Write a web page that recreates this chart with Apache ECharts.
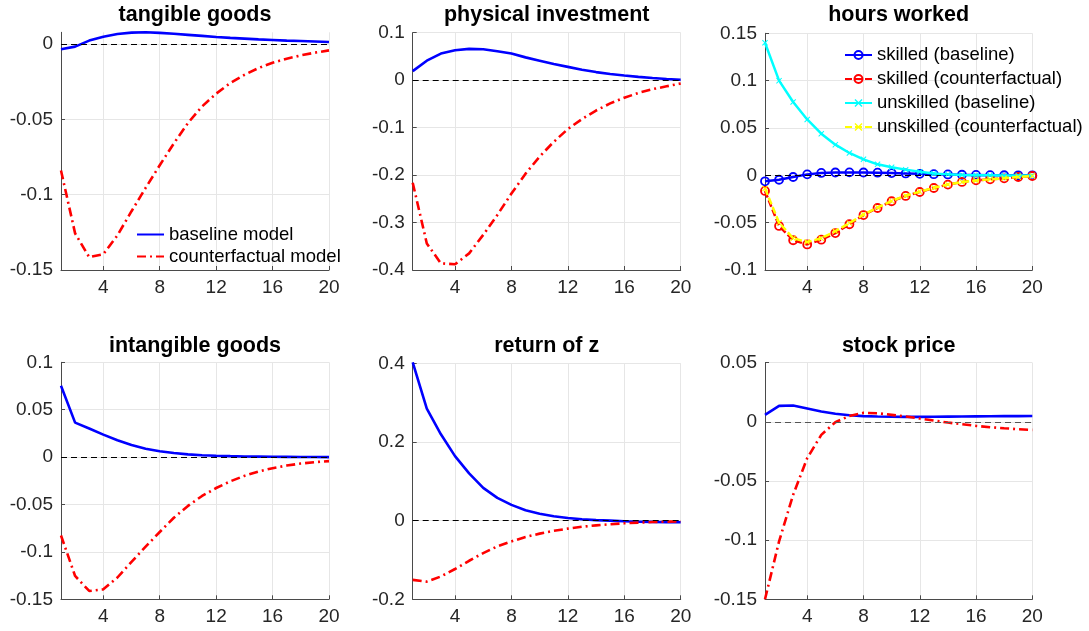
<!DOCTYPE html>
<html>
<head>
<meta charset="utf-8">
<script src="https://cdn.jsdelivr.net/npm/echarts@6/dist/echarts.min.js"></script>
<style>
html,body{margin:0;padding:0;background:#fff;}
#chart{width:1089px;height:631px;}
</style>
</head>
<body>
<div id="chart"></div>
<script>
// ---------- data ----------
const periods = [1,2,3,4,5,6,7,8,9,10,11,12,13,14,15,16,17,18,19,20];
const xTicks = [4,8,12,16,20];

const titles = ['tangible goods','physical investment','hours worked','intangible goods','return of z','stock price'];

const tangibleBaseline = [-0.0035,-0.0018,0.0022,0.0048,0.0066,0.0075,0.0077,0.0073,0.0067,0.006,0.0053,0.0046,0.004,0.0035,0.003,0.0026,0.0022,0.0019,0.0016,0.0013];
const tangibleCounter  = [-0.084,-0.1257,-0.1415,-0.1395,-0.127,-0.111,-0.0955,-0.0805,-0.066,-0.0525,-0.0415,-0.033,-0.026,-0.0205,-0.016,-0.0125,-0.0098,-0.0076,-0.0058,-0.0043];

const physBaseline = [0.019,0.041,0.056,0.063,0.066,0.065,0.061,0.056,0.048,0.041,0.034,0.028,0.022,0.017,0.013,0.0098,0.007,0.0045,0.0025,0.001];
const physCounter  = [-0.216,-0.344,-0.386,-0.388,-0.365,-0.326,-0.284,-0.239,-0.197,-0.161,-0.13,-0.103,-0.082,-0.064,-0.049,-0.037,-0.027,-0.019,-0.013,-0.007];

const skilledBaseline   = [-0.0063,-0.0047,-0.0018,0.001,0.0025,0.003,0.0031,0.003,0.0028,0.0024,0.002,0.0016,0.0012,0.0009,0.0006,0.0004,0.0002,0.0001,0,0];
const skilledCounter    = [-0.0165,-0.0535,-0.0686,-0.073,-0.068,-0.061,-0.0517,-0.042,-0.0345,-0.0274,-0.0218,-0.0176,-0.0134,-0.0098,-0.007,-0.0053,-0.0042,-0.0032,-0.0018,-0.0007];
const unskilledBaseline = [0.14,0.1,0.0775,0.059,0.044,0.0324,0.0236,0.0169,0.0116,0.0085,0.006,0.0037,0.002,0.001,0.0004,0.0001,0,-0.0001,-0.0002,-0.0002];
const unskilledCounter  = [-0.014,-0.05,-0.0665,-0.0705,-0.0665,-0.059,-0.0505,-0.0415,-0.034,-0.027,-0.0215,-0.0172,-0.0132,-0.0097,-0.0071,-0.0054,-0.0042,-0.0031,-0.0018,-0.0007];

const intangibleBaseline = [0.0753,0.0364,0.0302,0.0237,0.0177,0.0127,0.0089,0.0062,0.0043,0.0029,0.002,0.0014,0.001,0.0007,0.0005,0.0003,0.0002,0.0001,0.0001,0];
const intangibleCounter  = [-0.0827,-0.1254,-0.1412,-0.1395,-0.127,-0.1105,-0.0945,-0.079,-0.064,-0.0515,-0.041,-0.0326,-0.0256,-0.0198,-0.0152,-0.0117,-0.0089,-0.0068,-0.0053,-0.0042];

const returnBaseline = [0.4026,0.285,0.2196,0.164,0.12,0.0834,0.058,0.04,0.0264,0.0175,0.011,0.0065,0.0034,0.0014,0,-0.0015,-0.0025,-0.0032,-0.0037,-0.004];
const returnCounter  = [-0.1506,-0.155,-0.142,-0.123,-0.102,-0.0826,-0.0655,-0.0528,-0.0417,-0.033,-0.026,-0.0204,-0.0155,-0.012,-0.0092,-0.0068,-0.005,-0.0036,-0.0026,-0.0018];

const stockBaseline = [0.0059,0.0135,0.0138,0.0113,0.0088,0.0068,0.0056,0.0048,0.0045,0.0043,0.0042,0.0042,0.0043,0.0044,0.0045,0.0046,0.0047,0.0048,0.0048,0.0049];
const stockCounter  = [-0.15,-0.101,-0.0617,-0.0307,-0.011,-0.0003,0.005,0.0076,0.0073,0.0059,0.0045,0.0028,0.0011,-0.0006,-0.002,-0.0034,-0.0045,-0.0054,-0.0062,-0.0068];

// y-axis ranges and tick labels per panel
const yMins = [-0.15,-0.4,-0.1,-0.15,-0.2,-0.15];
const yMaxs = [0.0077,0.1,0.15,0.1,0.4,0.05];
const yTicks = [
  [-0.15,-0.1,-0.05,0],
  [-0.4,-0.3,-0.2,-0.1,0,0.1],
  [-0.1,-0.05,0,0.05,0.1,0.15],
  [-0.15,-0.1,-0.05,0,0.05,0.1],
  [-0.2,0,0.2,0.4],
  [-0.15,-0.1,-0.05,0,0.05]
];

const legend1Names = ['baseline model','counterfactual model'];
const legend2Names = ['skilled (baseline)','skilled (counterfactual)','unskilled (baseline)','unskilled (counterfactual)'];

// ---------- layout / styles ----------
const FONT = 'Liberation Sans';
const grids = [
  {left:61,    top:32.3,  width:268,   height:237.7},
  {left:412.7, top:32.7,  width:268,   height:237.3},
  {left:765,   top:33.3,  width:267.3, height:236.7},
  {left:61,    top:362.3, width:268,   height:237},
  {left:412.7, top:363.3, width:268,   height:236},
  {left:765,   top:362.7, width:267.3, height:236.6}
];
const AX = '#4a4a4a';
const GRIDC = '#e6e6e6';
const pair = arr => periods.map((p,i)=>[p,arr[i]]);
const fmt = v => String(+(+v).toFixed(4));
const xPath = 'path://M0,1.2 L1.2,0 L5,3.8 L8.8,0 L10,1.2 L6.2,5 L10,8.8 L8.8,10 L5,6.2 L1.2,10 L0,8.8 L3.8,5 Z';

const xAxes = grids.map((g,i)=>({
  type:'value', gridIndex:i, min:1, max:20,
  axisLine:{show:true, onZero:false, lineStyle:{color:AX, width:1}},
  axisTick:{show:true, inside:true, length:4, customValues:xTicks, lineStyle:{color:AX}},
  axisLabel:{show:true, customValues:xTicks, color:'#262626', fontSize:19, fontFamily:FONT, margin:8},
  splitLine:{show:true, lineStyle:{color:GRIDC, width:1}}
}));
const yAxes = grids.map((g,i)=>({
  type:'value', gridIndex:i, min:yMins[i], max:yMaxs[i],
  axisLine:{show:true, onZero:false, lineStyle:{color:AX, width:1}},
  axisTick:{show:true, inside:true, length:4, customValues:yTicks[i], lineStyle:{color:AX}},
  axisLabel:{show:true, customValues:yTicks[i], color:'#262626', fontSize:19, fontFamily:FONT, margin:8, formatter:fmt},
  splitLine:{show:true, lineStyle:{color:GRIDC, width:1}}
}));

const zeroLine = (color) => ({
  silent:true, symbol:'none', label:{show:false},
  lineStyle:{color:color||'#000', type:[6,4], width:1},
  data:[{yAxis:0}]
});
const DASHDOT = [9,4,2,4];
const solidSeries = (name, idx, arr, zl) => ({
  type:'line', name, xAxisIndex:idx, yAxisIndex:idx, data:pair(arr),
  symbol:'none', showSymbol:false, z:3,
  lineStyle:{color:'#0000ff', width:2.6, type:'solid'},
  itemStyle:{color:'#0000ff'},
  markLine: zl
});
const dashSeries = (name, idx, arr) => ({
  type:'line', name, xAxisIndex:idx, yAxisIndex:idx, data:pair(arr),
  symbol:'none', showSymbol:false, z:4,
  lineStyle:{color:'#ff0000', width:2.6, type:DASHDOT},
  itemStyle:{color:'#ff0000'}
});

const series = [
  solidSeries(legend1Names[0],0,tangibleBaseline,zeroLine()),
  dashSeries(legend1Names[1],0,tangibleCounter),
  solidSeries('baseline',1,physBaseline,zeroLine()),
  dashSeries('counterfactual',1,physCounter),
  {
    type:'line', name:legend2Names[0], xAxisIndex:2, yAxisIndex:2, data:pair(skilledBaseline),
    symbol:'circle', symbolSize:8, showSymbol:true, z:3,
    lineStyle:{color:'#0000ff', width:2.5},
    itemStyle:{color:'rgba(255,255,255,0)', borderColor:'#0000ff', borderWidth:1.8},
    markLine: zeroLine()
  },
  {
    type:'line', name:legend2Names[1], xAxisIndex:2, yAxisIndex:2, data:pair(skilledCounter),
    symbol:'circle', symbolSize:8, showSymbol:true, z:4,
    lineStyle:{color:'#ff0000', width:2.5, type:[7,3]},
    itemStyle:{color:'rgba(255,255,255,0)', borderColor:'#ff0000', borderWidth:1.8}
  },
  {
    type:'line', name:legend2Names[2], xAxisIndex:2, yAxisIndex:2, data:pair(unskilledBaseline),
    symbol:xPath, symbolSize:6, showSymbol:true, z:5,
    lineStyle:{color:'#00ffff', width:2.5},
    itemStyle:{color:'#00ffff'}
  },
  {
    type:'line', name:legend2Names[3], xAxisIndex:2, yAxisIndex:2, data:pair(unskilledCounter),
    symbol:xPath, symbolSize:6, showSymbol:true, z:6,
    lineStyle:{color:'#ffff00', width:2.5, type:[7,3]},
    itemStyle:{color:'#ffff00'}
  },
  solidSeries('baseline',3,intangibleBaseline,zeroLine()),
  dashSeries('counterfactual',3,intangibleCounter),
  solidSeries('baseline',4,returnBaseline,zeroLine()),
  dashSeries('counterfactual',4,returnCounter),
  solidSeries('baseline',5,stockBaseline,zeroLine('#555')),
  dashSeries('counterfactual',5,stockCounter)
];

const titleGraphics = titles.map((t,i)=>({
  type:'text',
  x: grids[i].left + grids[i].width/2,
  y: i<3 ? 15 : 346,
  style:{text:t, align:'center', verticalAlign:'middle', textAlign:'center', textVerticalAlign:'middle',
         font:'bold 21.5px "'+FONT+'"', fill:'#000'},
  z:10
}));

const legendText = {fontSize:18.5, color:'#000', fontFamily:FONT, lineHeight:20};
const option = {
  animation:false,
  backgroundColor:'#fff',
  grid: grids.map(g=>Object.assign({containLabel:false}, g)),
  xAxis: xAxes,
  yAxis: yAxes,
  legend: [
    {data:legend1Names, orient:'vertical', left:136, top:224.5, itemWidth:27, itemHeight:14, itemGap:2,
     itemStyle:{color:'rgba(0,0,0,0)', borderWidth:0, opacity:0},
     textStyle:legendText, selectedMode:false, padding:0},
    {data:legend2Names, orient:'vertical', left:844, top:45, itemWidth:27, itemHeight:10, itemGap:4,
     textStyle:legendText, selectedMode:false, padding:0}
  ],
  graphic: titleGraphics,
  series
};

const chart = echarts.init(document.getElementById('chart'), null, {renderer:'canvas'});
chart.setOption(option);
</script>
</body>
</html>
